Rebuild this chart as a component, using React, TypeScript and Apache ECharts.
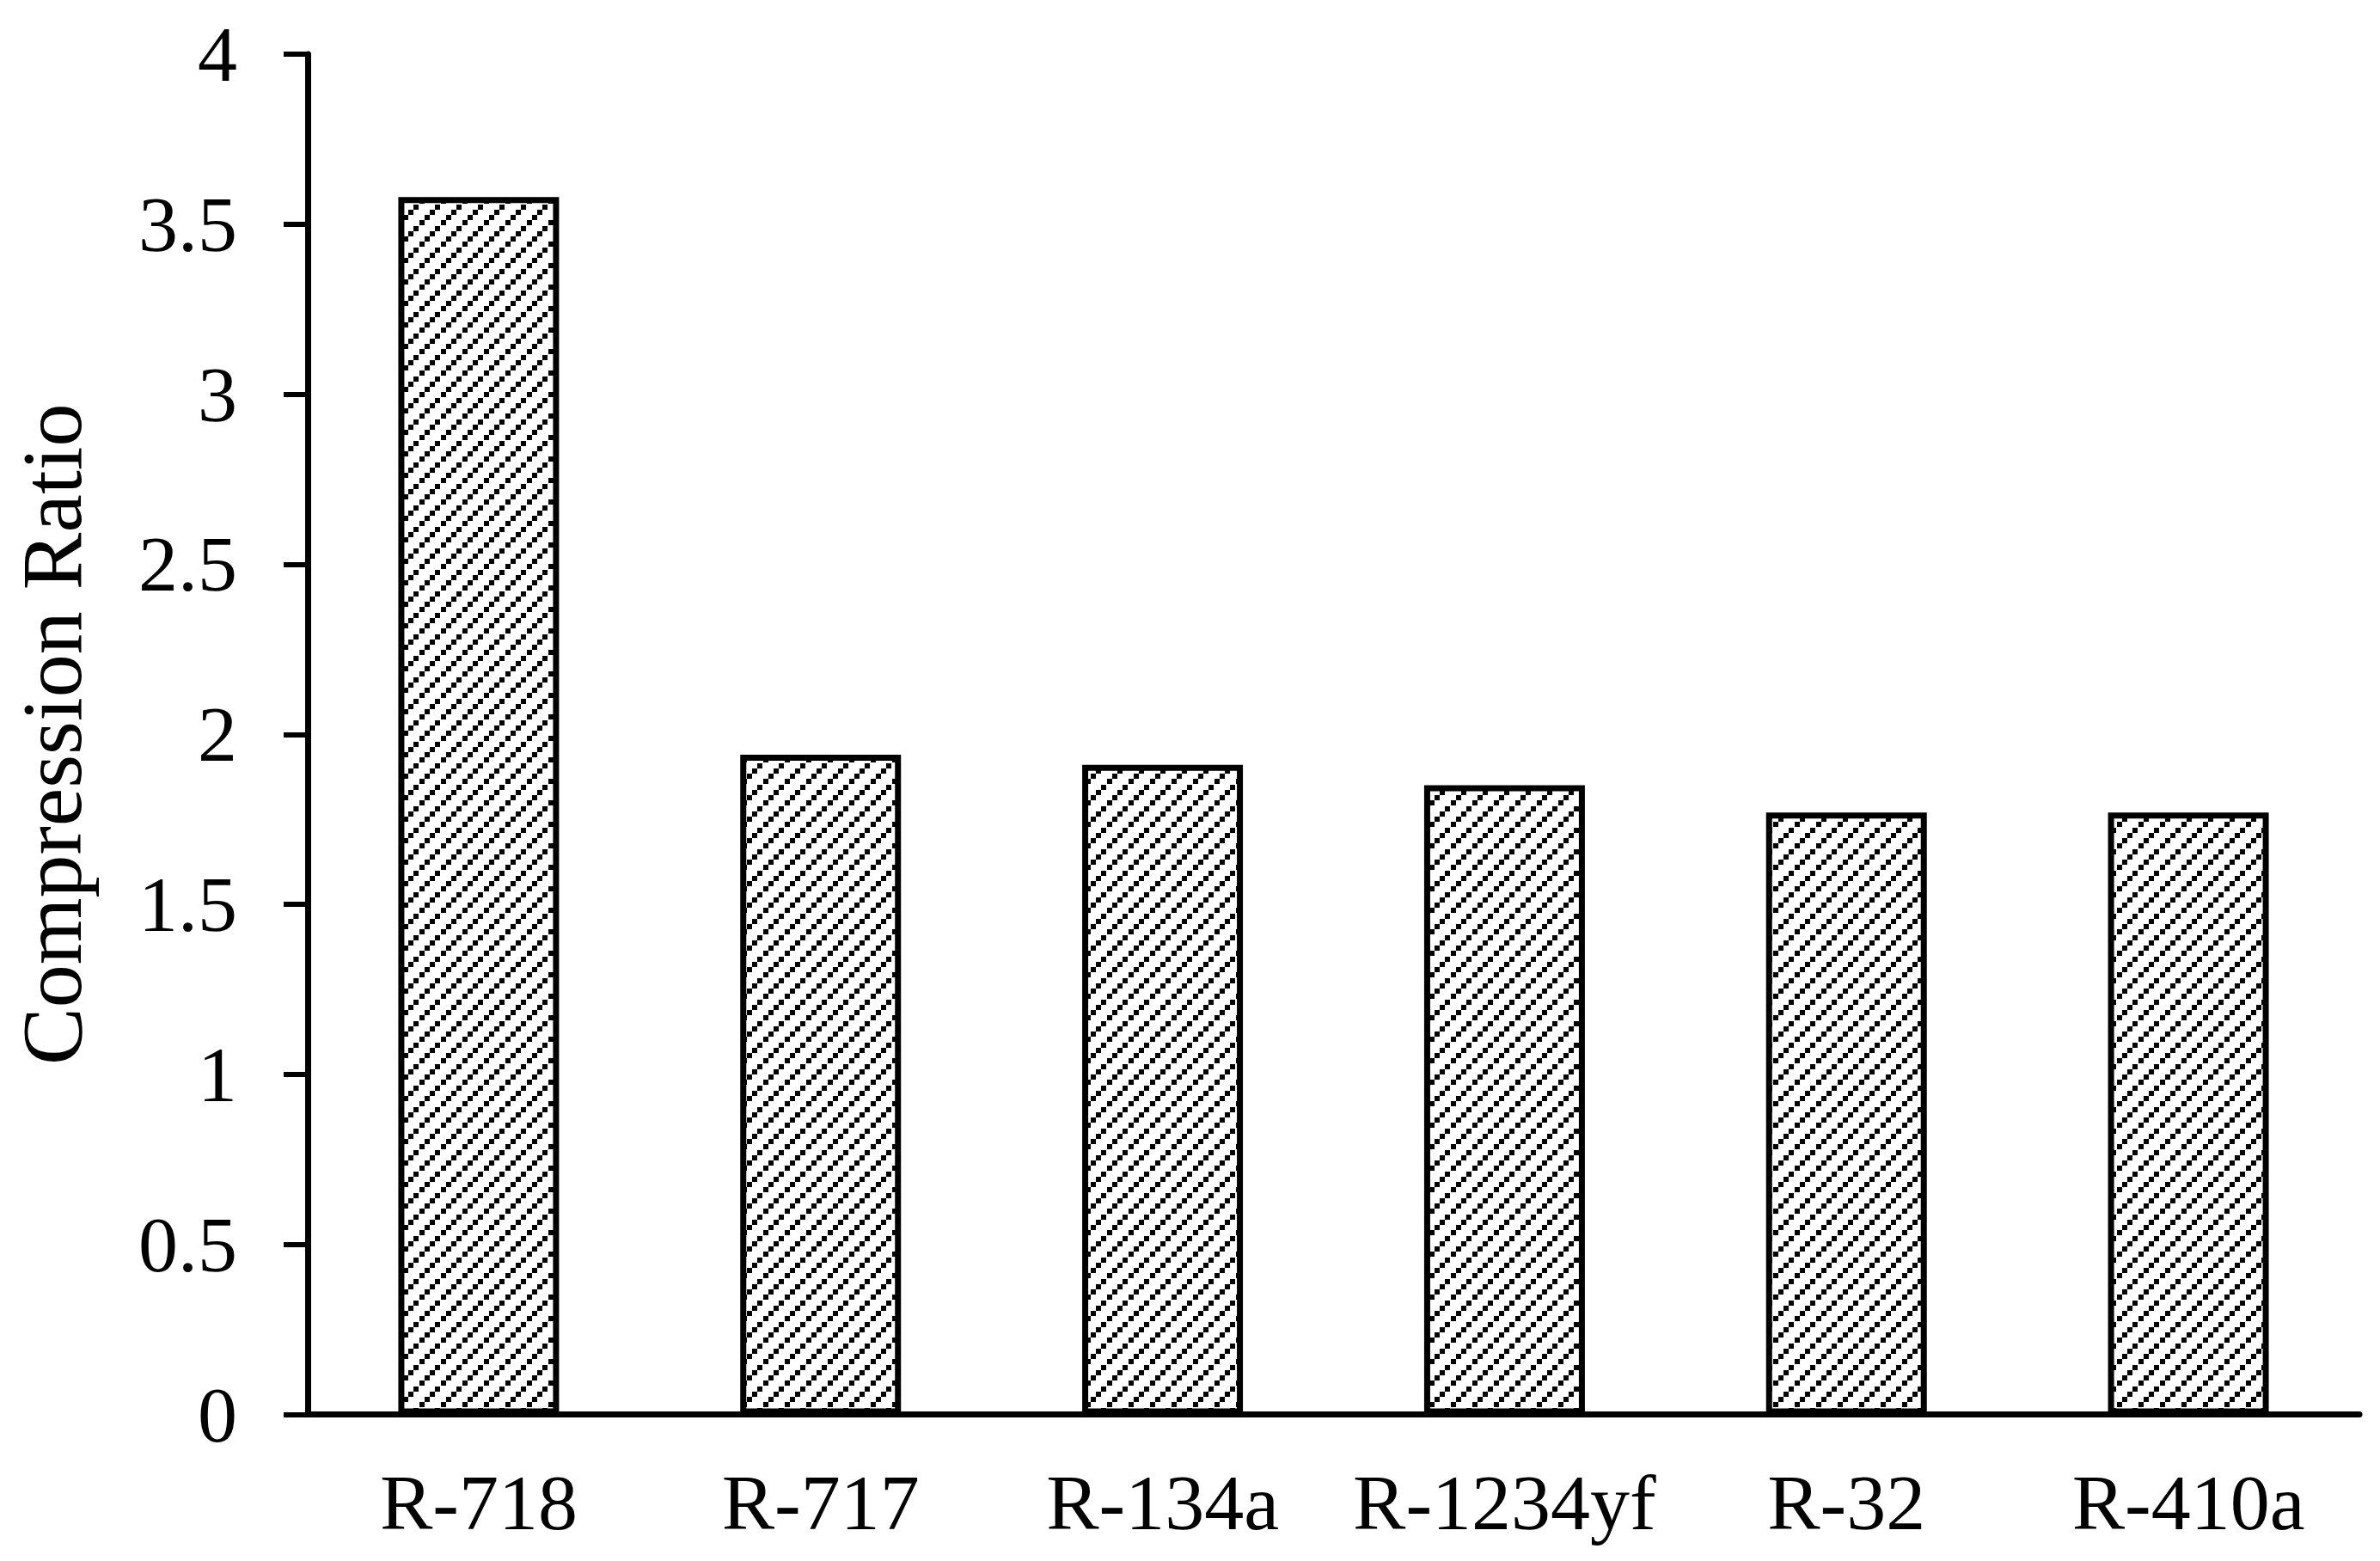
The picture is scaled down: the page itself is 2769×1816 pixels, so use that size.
import React, { useEffect, useRef } from "react";
import * as echarts from "echarts";

const categories = ["R-718", "R-717", "R-134a", "R-1234yf", "R-32", "R-410a"];
const compressionRatio = [3.58, 1.94, 1.91, 1.85, 1.77, 1.77];
const yTicks = { min: 0, max: 4, interval: 0.5 };
const yTitle = "Compression Ratio";

const FONT = "'Liberation Serif', 'Times New Roman', serif";

function hatchUrl(): string {
  const step = 6.25;
  let rects = "";
  for (let k = 0; k < 4; k++) {
    const x = k * step;
    const y = 25 - (k + 1) * step;
    rects += `<rect x='${x}' y='${y}' width='6.2' height='6.2' fill='black'/>`;
  }
  const svg = `<svg xmlns='http://www.w3.org/2000/svg' width='25' height='25' shape-rendering='crispEdges'><rect width='25' height='25' fill='white'/>${rects}</svg>`;
  return "data:image/svg+xml;charset=utf-8," + encodeURIComponent(svg);
}

export default function App() {
  const ref = useRef<HTMLDivElement>(null);
  useEffect(() => {
    document.body.style.margin = "0";
    const chart = echarts.init(ref.current!, null, { renderer: "svg" });
    chart.setOption({
      animation: false,
      backgroundColor: "#ffffff",
      grid: {
        left: 358,
        right: 24,
        top: 63,
        bottom: 170.5,
        containLabel: false,
        outerBoundsMode: "none",
      } as any,
      xAxis: {
        type: "category",
        data: categories,
        axisLine: { show: true, lineStyle: { color: "#000", width: 7 } },
        axisTick: { show: false },
        axisLabel: { color: "#000", fontFamily: FONT, fontSize: 92, margin: 56, interval: 0 },
        splitLine: { show: false },
      },
      yAxis: {
        type: "value",
        min: yTicks.min,
        max: yTicks.max,
        interval: yTicks.interval,
        name: yTitle,
        nameLocation: "middle",
        nameGap: 248,
        nameTextStyle: { color: "#000", fontFamily: FONT, fontSize: 100 },
        axisLine: { show: true, lineStyle: { color: "#000", width: 7 } },
        axisTick: { show: true, length: 28, lineStyle: { color: "#000", width: 6 } },
        axisLabel: { color: "#000", fontFamily: FONT, fontSize: 92, margin: 82 },
        splitLine: { show: false },
      },
      series: [
        {
          type: "bar",
          data: compressionRatio,
          barWidth: "47%",
          itemStyle: {
            color: { image: hatchUrl(), repeat: "repeat", imageWidth: 25, imageHeight: 25 } as any,
            borderColor: "#000",
            borderWidth: 7,
          },
          emphasis: { disabled: true },
        },
      ],
    });
    return () => chart.dispose();
  }, []);
  return <div ref={ref} style={{ width: 2769, height: 1816 }} />;
}
